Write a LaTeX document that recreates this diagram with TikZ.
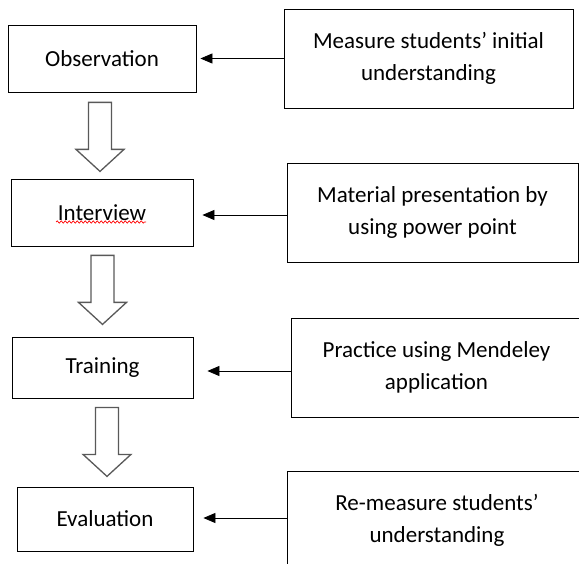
\documentclass[tikz,border=0pt]{standalone}
\usepackage{fontspec}
\setmainfont{Carlito}
\usetikzlibrary{arrows.meta, decorations.pathmorphing}

\begin{document}
\begin{tikzpicture}[
  x=1pt, y=-1pt,
  stage/.style={draw, line width=0.8pt, inner sep=0pt, minimum height=#1, font=\fontsize{23}{32}\selectfont},
  task/.style={draw, line width=0.8pt, inner sep=0pt, align=center, minimum height=99pt, font=\fontsize{23}{32}\selectfont},
  link/.style={line width=0.8pt, -{Triangle[length=12pt,width=10pt]}},
  downarrow/.pic={
    \draw[draw=black!65, line width=1.3pt, line join=miter]
      (-11.5,0) -- (11.5,0) -- (11.5,47) -- (24,47) -- (0,69) -- (-24,47) -- (-11.5,47) -- cycle;
  }
]
  \useasboundingbox (0,0) rectangle (579,564);
  \clip (0,0) rectangle (579,564);

  % steps on the left
  \node[stage=67pt, minimum width=188pt] (obs) at (102,58.5) {Observation};
  \node[stage=67pt, minimum width=182pt] (int) at (102,212.5) {Interview};
  \node[stage=61pt, minimum width=181pt] (tra) at (102.5,367.5) {Training};
  \node[stage=64pt, minimum width=176pt] (eva) at (105,519) {Evaluation};

  % what happens in each step
  \node[task, minimum width=289pt] (m1) at (428.5,58.5) {Measure students’ initial\\understanding};
  \node[task, minimum width=291pt] (m2) at (432.5,212.5) {Material presentation by\\using power point};
  \node[task, minimum width=291pt] (m3) at (436.5,367.5) {Practice using Mendeley\\application};
  \node[task, minimum width=300pt] (m4) at (437,520.5) {Re-measure students’\\understanding};

  \draw[link, shorten >=4pt] (m1.west) -- (m1.west -| obs.east);
  \draw[link, shorten >=9pt] ([yshift=-2.5pt]m2.west) -- ([yshift=-2.5pt]m2.west -| int.east);
  \draw[link, shorten >=14pt] ([yshift=-3.5pt]m3.west) -- ([yshift=-3.5pt]m3.west -| tra.east);
  \draw[link, shorten >=10pt] ([yshift=2.5pt]m4.west) -- ([yshift=2.5pt]m4.west -| eva.east);

  \pic at ([xshift=-2pt,yshift=-10pt]obs.south) {downarrow};
  \pic at ([xshift=0.5pt,yshift=-9pt]int.south) {downarrow};
  \pic at ([xshift=4.5pt,yshift=-9pt]tra.south) {downarrow};

  % spell-check line under Interview
  \draw[red, line width=0.7pt, decorate, decoration={snake, amplitude=1.1pt, segment length=4pt}]
    ([xshift=-46pt,yshift=-9.5pt]int.center) -- ([xshift=44pt,yshift=-9.5pt]int.center);
\end{tikzpicture}
\end{document}
